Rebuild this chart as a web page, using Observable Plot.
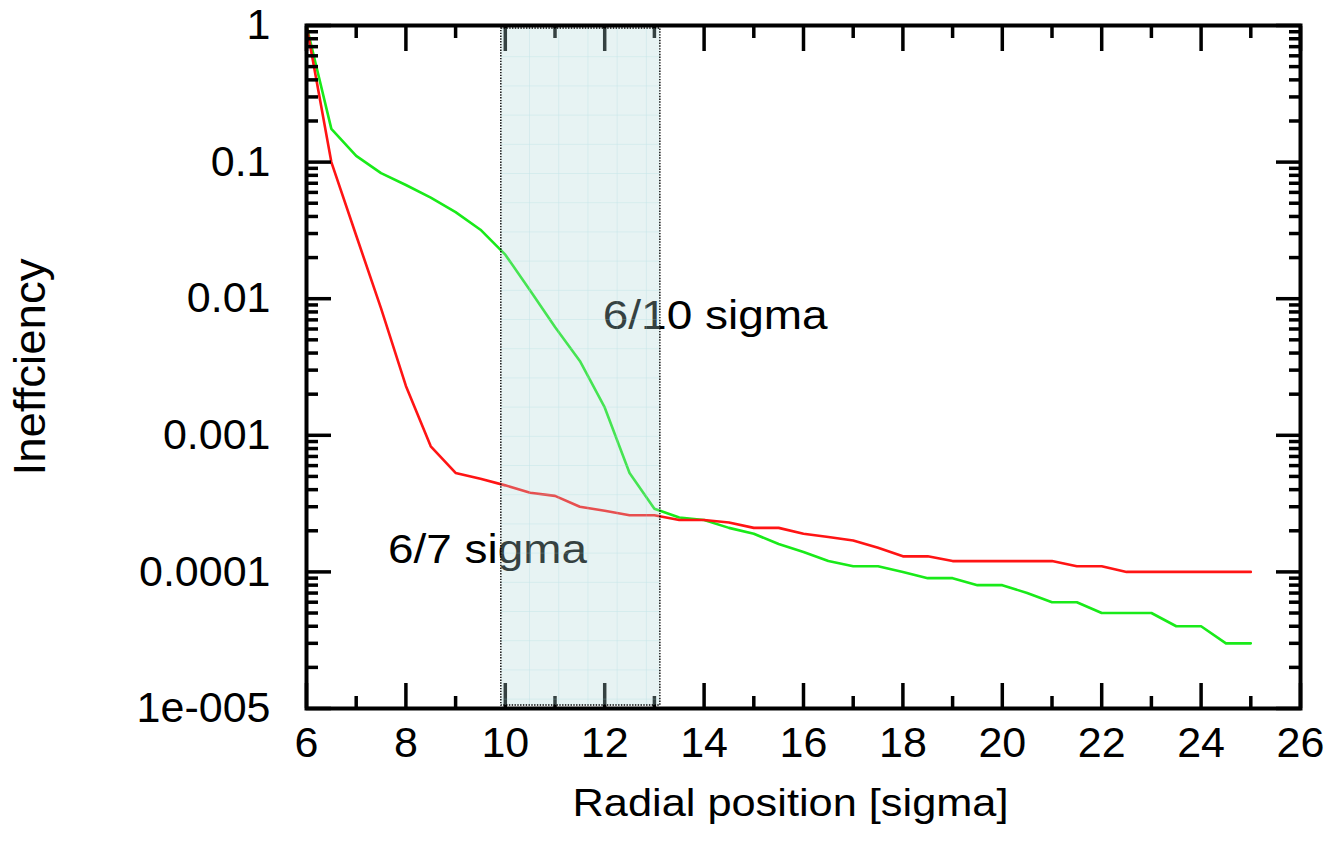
<!DOCTYPE html>
<html>
<head>
<meta charset="utf-8">
<script src="https://cdn.jsdelivr.net/npm/d3@7"></script>
<script src="https://cdn.jsdelivr.net/npm/@observablehq/plot@0.6"></script>
<style>
  html, body { margin: 0; padding: 0; background: #fff; }
  #chart svg { display: block; }
</style>
</head>
<body>
<div id="chart"></div>
<script>
// ---- data ----
const radial = [6, 6.5, 7, 7.5, 8, 8.5, 9, 9.5, 10, 10.5, 11, 11.5, 12, 12.5, 13, 13.5, 14, 14.5, 15, 15.5,
                16, 16.5, 17, 17.5, 18, 18.5, 19, 19.5, 20, 20.5, 21, 21.5, 22, 22.5, 23, 23.5, 24, 24.5, 25];
const ineffRed = [1, 0.1, 0.029, 0.0085, 0.0023, 0.00083, 0.00053, 0.00048, 0.00043, 0.00038,
                  0.00036, 0.0003, 0.00028, 0.00026, 0.00026, 0.00024, 0.00024, 0.00023, 0.00021, 0.00021,
                  0.00019, 0.00018, 0.00017, 0.00015, 0.00013, 0.00013, 0.00012, 0.00012, 0.00012, 0.00012,
                  0.00012, 0.00011, 0.00011, 0.0001, 0.0001, 0.0001, 0.0001, 0.0001, 0.0001];
const ineffGreen = [1, 0.175, 0.111, 0.083, 0.068, 0.055, 0.043, 0.032, 0.021, 0.0115,
                    0.0062, 0.0035, 0.0016, 0.00053, 0.00029, 0.00025, 0.00024, 0.00021, 0.00019, 0.00016,
                    0.00014, 0.00012, 0.00011, 0.00011, 0.0001, 0.00009, 0.00009, 0.00008, 0.00008, 0.00007,
                    0.00006, 0.00006, 0.00005, 0.00005, 0.00005, 0.00004, 0.00004, 0.00003, 0.00003];

const annoText = ["6/10 sigma", "6/7 sigma"];
const annoX = [11.96, 7.64];
const annoY = [0.0075, 0.000144];
const annoWidth = [225, 199];

const shadeStart = [9.92];
const shadeEnd = [13.12];

const xMajorTicks = [6, 8, 10, 12, 14, 16, 18, 20, 22, 24, 26];
const xMinorTicks = [7, 9, 11, 13, 15, 17, 19, 21, 23, 25];
const yMajorTicks = [1e-5, 1e-4, 1e-3, 1e-2, 1e-1, 1];
const yTickLabels = ["1e-005", "0.0001", "0.001", "0.01", "0.1", "1"];
const yMinorTicks = [];
for (const p of [-5, -4, -3, -2, -1]) for (let m = 2; m <= 9; m++) yMinorTicks.push(+(m * Math.pow(10, p)).toPrecision(3));

const xTitle = "Radial position [sigma]";
const yTitle = "Ineffciency";

// ---- build tables ----
const redRows = radial.map((x, i) => ({x, y: ineffRed[i]}));
const greenRows = radial.map((x, i) => ({x, y: ineffGreen[i]}));
const shade = shadeStart.map((s, i) => ({x1: s, x2: shadeEnd[i]}));

const W = 1339, H = 851;
const mL = 306, mR = 39, mT = 25, mB = 143;
const tickW = 3.5;
const noLabel = () => "";
const FONT = "'Liberation Sans', Arial, Helvetica, sans-serif";

const plot = Plot.plot({
  width: W, height: H,
  marginLeft: mL, marginRight: mR, marginTop: mT, marginBottom: mB,
  x: {domain: [6, 26]},
  y: {type: "log", domain: [1e-5, 1]},
  style: {fontFamily: FONT, background: "white", color: "black"},
  marks: [
    // annotations
    Plot.text(annoText, {x: (d, i) => annoX[i], y: (d, i) => annoY[i], text: d => d,
      textAnchor: "start", lineAnchor: "middle", fontSize: 40, fill: "black"}),
    // series
    Plot.line(greenRows, {x: "x", y: "y", stroke: "#19ea19", strokeWidth: 2.6}),
    Plot.line(redRows, {x: "x", y: "y", stroke: "#ff1414", strokeWidth: 2.6}),
    // frame
    Plot.frame({stroke: "black", strokeWidth: 4}),
    // inward ticks on all four sides
    Plot.axisX(xMajorTicks, {anchor: "bottom", tickSize: -25, strokeWidth: tickW, tickFormat: noLabel, label: null}),
    Plot.axisX(xMinorTicks, {anchor: "bottom", tickSize: -12, strokeWidth: tickW, tickFormat: noLabel, label: null}),
    Plot.axisX(xMajorTicks, {anchor: "top", tickSize: -25, strokeWidth: tickW, tickFormat: noLabel, label: null}),
    Plot.axisX(xMinorTicks, {anchor: "top", tickSize: -12, strokeWidth: tickW, tickFormat: noLabel, label: null}),
    Plot.axisY(yMajorTicks, {anchor: "left", tickSize: -25, strokeWidth: tickW, tickFormat: noLabel, label: null}),
    Plot.axisY(yMinorTicks, {anchor: "left", tickSize: -12, strokeWidth: tickW, tickFormat: noLabel, label: null}),
    Plot.axisY(yMajorTicks, {anchor: "right", tickSize: -25, strokeWidth: tickW, tickFormat: noLabel, label: null}),
    Plot.axisY(yMinorTicks, {anchor: "right", tickSize: -12, strokeWidth: tickW, tickFormat: noLabel, label: null}),
    // tick labels
    Plot.axisX(xMajorTicks, {anchor: "bottom", tickSize: 0, tickPadding: 18, fontSize: 43, label: null, tickFormat: d => String(d)}),
    Plot.axisY(yMajorTicks, {anchor: "left", tickSize: 0, tickPadding: 36, fontSize: 43, label: null,
      tickFormat: d => yTickLabels[yMajorTicks.indexOf(d)]}),
    // axis titles
    Plot.text([xTitle], {frameAnchor: "bottom", text: d => d, dy: 95, dx: -13, lineAnchor: "middle",
      textAnchor: "middle", fontSize: 38, fill: "black"}),
    Plot.text([yTitle], {frameAnchor: "left", text: d => d, dx: -276, rotate: -90, lineAnchor: "middle",
      textAnchor: "middle", fontSize: 45, fill: "black"}),
    // shaded band on top (semi-transparent graph-paper look)
    Plot.rect(shade, {x1: "x1", x2: "x2", insetTop: 3, insetBottom: 3, fill: "url(#shadegrid)"}),
    Plot.rect(shade, {x1: "x1", x2: "x2", insetTop: 3, insetBottom: 3, fill: "none", stroke: "black",
      strokeWidth: 1.4, strokeDasharray: "1.4,1.4"})
  ]
});

// horizontally widened lettering, as in the reference
const widths = new Map(annoText.map((t, i) => [t, annoWidth[i]]));
widths.set(xTitle, 436);
widths.set(yTitle, 217);
for (const t of plot.querySelectorAll("text")) {
  const w = widths.get(t.textContent);
  if (w) { t.setAttribute("textLength", w); t.setAttribute("lengthAdjust", "spacingAndGlyphs"); }
}

// graph-paper pattern for the band
const ns = "http://www.w3.org/2000/svg";
const px0 = plot.scale("x").apply(shadeStart[0]);
const py0 = mT + 3;
const cell = 29.2;
const defs = document.createElementNS(ns, "defs");
defs.innerHTML =
  `<pattern id="shadegrid" patternUnits="userSpaceOnUse" x="${px0}" y="${py0}" width="${cell}" height="${cell}">` +
  `<rect width="${cell}" height="${cell}" fill="rgb(178,218,218)" fill-opacity="0.3"/>` +
  `<path d="M${cell},0V${cell}M0,${cell}H${cell}" stroke="rgb(150,210,218)" stroke-opacity="0.45" stroke-width="1" fill="none"/>` +
  `</pattern>`;
plot.insertBefore(defs, plot.firstChild);

document.getElementById("chart").appendChild(plot);
</script>
</body>
</html>
